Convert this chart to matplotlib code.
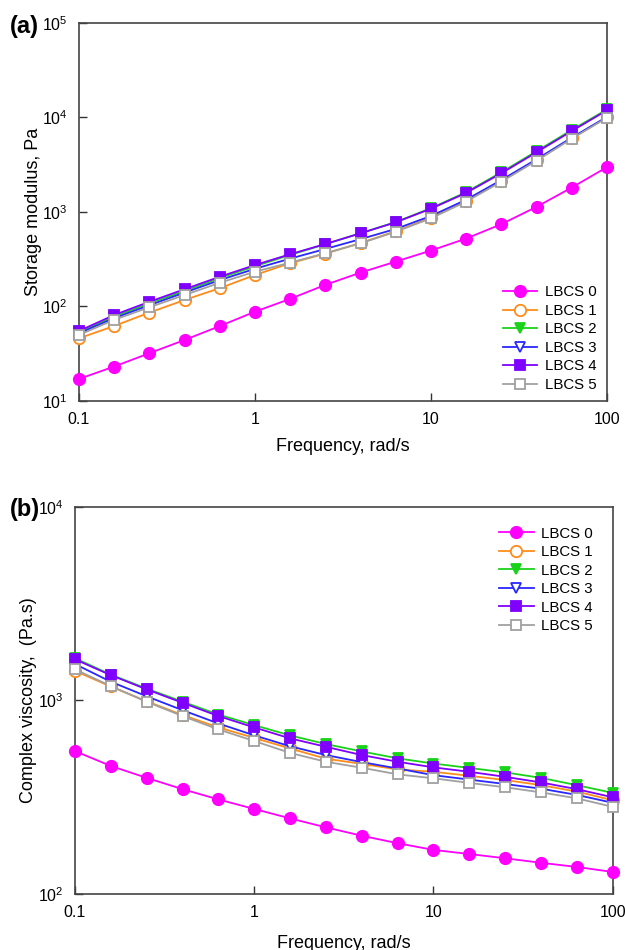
import matplotlib
matplotlib.use("Agg")
import matplotlib.pyplot as plt
import numpy as np
from matplotlib.ticker import FixedLocator, FixedFormatter, NullLocator

plt.rcParams['font.family'] = ['Liberation Sans', 'DejaVu Sans']
plt.rcParams['mathtext.default'] = 'regular'

# angular frequency sweep, rad/s (5 points per decade)
freq = [0.1, 0.158, 0.251, 0.398, 0.631, 1.0, 1.58, 2.51, 3.98, 6.31,
        10.0, 15.8, 25.1, 39.8, 63.1, 100.0]

labels = ['LBCS 0', 'LBCS 1', 'LBCS 2', 'LBCS 3', 'LBCS 4', 'LBCS 5']

# storage modulus G', Pa
g_lbcs0 = [17.1, 23.1, 32, 44.2, 62, 88, 120, 169, 228, 298, 390, 521, 741, 1130, 1808, 2970]
g_lbcs1 = [46, 62, 86, 117, 156, 215, 286, 362, 468, 625, 870, 1300, 2120, 3520, 6000, 10000]
g_lbcs2 = [53, 78, 108, 146, 200, 266, 350, 455, 595, 780, 1095, 1610, 2620, 4380, 7350, 12100]
g_lbcs3 = [52, 75, 103, 140, 190, 250, 320, 405, 515, 660, 905, 1340, 2170, 3600, 6100, 10100]
g_lbcs4 = [55, 81, 112, 152, 206, 274, 356, 457, 593, 776, 1080, 1582, 2558, 4265, 7160, 11860]
g_lbcs5 = [50, 72, 98, 132, 178, 233, 290, 365, 465, 617, 855, 1280, 2084, 3475, 5940, 9910]

# complex viscosity |eta*|, Pa.s
eta_lbcs0 = [547, 459, 398, 348, 308, 275, 246, 221, 200, 183, 169, 161, 153, 145, 138, 130]
eta_lbcs1 = [1420, 1180, 990, 840, 725, 640, 565, 500, 470, 440, 428, 408, 388, 365, 338, 305]
eta_lbcs2 = [1650, 1360, 1150, 985, 845, 745, 660, 595, 545, 502, 472, 448, 425, 398, 365, 333]
eta_lbcs3 = [1540, 1250, 1050, 890, 760, 660, 580, 522, 480, 445, 411, 390, 370, 350, 325, 296]
eta_lbcs4 = [1628, 1351, 1140, 972, 830, 725, 637, 576, 522, 482, 451, 428, 403, 377, 348, 316]
eta_lbcs5 = [1446, 1186, 984, 830, 708, 617, 536, 482, 449, 415, 396, 375, 356, 335, 312, 282]

# (color, marker, marker face)
styles = [
    ('#ff00ff', 'o', '#ff00ff'),
    ('#ff8c1a', 'o', 'white'),
    ('#19d219', 'v', '#19d219'),
    ('#2828ff', 'v', 'white'),
    ('#8000ff', 's', '#8000ff'),
    ('#a0a0a0', 's', 'white'),
]
msizes = {'o': 8.2, 's': 7.2, 'v': 7.8}


def draw_panel(ax, series, ylim, yticks, ylabel, xpad, ypad,
               legend_loc, legend_anchor):
    for vals, lab, (col, mk, face) in zip(series, labels, styles):
        ax.plot(freq, vals, color=col, lw=1.3, marker=mk, ms=msizes[mk],
                mfc=face, mec=col, mew=1.3, label=lab, clip_on=False,
                zorder=3)
    ax.set_xscale('log')
    ax.set_yscale('log')
    ax.set_xlim(0.1, 100)
    ax.set_ylim(*ylim)
    ax.xaxis.set_major_locator(FixedLocator([0.1, 1, 10, 100]))
    ax.xaxis.set_major_formatter(FixedFormatter(['0.1', '1', '10', '100']))
    ax.xaxis.set_minor_locator(NullLocator())
    ax.yaxis.set_major_locator(FixedLocator(yticks))
    ax.yaxis.set_major_formatter(FixedFormatter(
        ['$10^{%d}$' % int(np.log10(t)) for t in yticks]))
    ax.yaxis.set_minor_locator(NullLocator())
    ax.tick_params(direction='in', length=6, width=1, labelsize=11.5,
                   pad=8, colors='#333333', labelcolor='black')
    for sp in ax.spines.values():
        sp.set_color('#444444')
        sp.set_linewidth(1.2)
    ax.set_xlabel('Frequency, rad/s', fontsize=13, labelpad=xpad)
    ax.set_ylabel(ylabel, fontsize=13, labelpad=ypad)
    ax.legend(loc=legend_loc, bbox_to_anchor=legend_anchor, frameon=False,
              fontsize=10.8, handlelength=2.3, handletextpad=0.5,
              labelspacing=0.3, borderaxespad=0.2)


fig = plt.figure(figsize=(6.25, 9.5), dpi=100)
ax1 = fig.add_axes([0.1264, 0.5779, 0.8448, 0.3982])
ax2 = fig.add_axes([0.12, 0.0589, 0.8603, 0.4077])

draw_panel(ax1, [g_lbcs0, g_lbcs1, g_lbcs2, g_lbcs3, g_lbcs4, g_lbcs5],
           (10, 1e5), [10, 100, 1000, 1e4, 1e5], 'Storage modulus, Pa',
           8, 0, 'lower right', (0.997, 0.0))
draw_panel(ax2, [eta_lbcs0, eta_lbcs1, eta_lbcs2, eta_lbcs3, eta_lbcs4, eta_lbcs5],
           (100, 1e4), [100, 1e3, 1e4], 'Complex viscosity,  (Pa.s)',
           11, 1, 'upper right', (0.98, 0.972))

fig.text(0.016, 0.972, '(a)', fontsize=17, fontweight='bold', va='center')
fig.text(0.016, 0.464, '(b)', fontsize=17, fontweight='bold', va='center')

fig.savefig('out.png', dpi=100)
